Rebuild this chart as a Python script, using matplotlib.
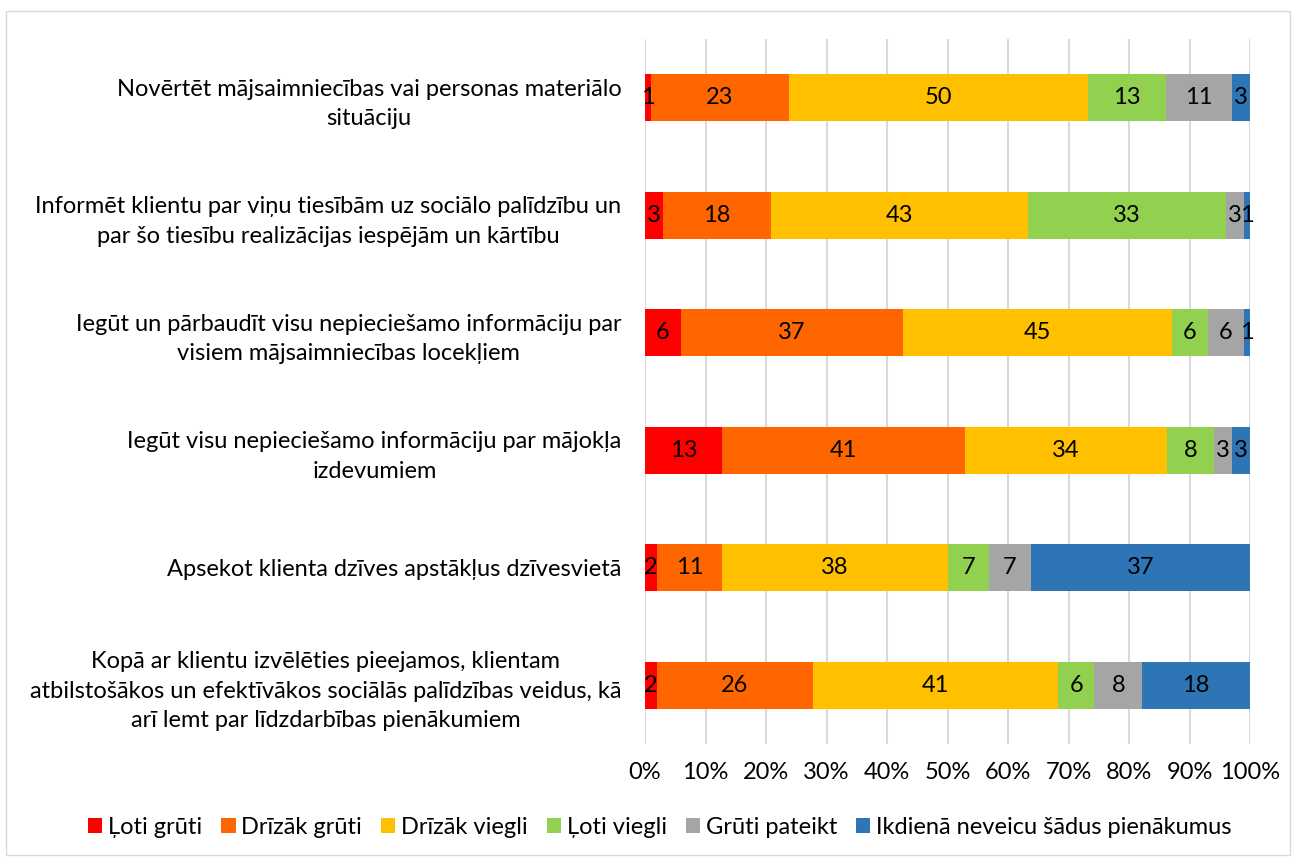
import matplotlib.pyplot as plt
from matplotlib.patches import Rectangle
import numpy as np

plt.rcParams['font.family'] = ['Lato', 'DejaVu Sans']

categories = [
    "Novērtēt mājsaimniecības vai personas materiālo\nsituāciju",
    "Informēt klientu par viņu tiesībām uz sociālo palīdzību un\npar šo tiesību realizācijas iespējām un kārtību",
    "Iegūt un pārbaudīt visu nepieciešamo informāciju par\nvisiem mājsaimniecības locekļiem",
    "Iegūt visu nepieciešamo informāciju par mājokļa\nizdevumiem",
    "Apsekot klienta dzīves apstākļus dzīvesvietā",
    "Kopā ar klientu izvēlēties pieejamos, klientam\natbilstošākos un efektīvākos sociālās palīdzības veidus, kā\narī lemt par līdzdarbības pienākumiem",
]
series_names = ["Ļoti grūti", "Drīzāk grūti", "Drīzāk viegli", "Ļoti viegli",
                "Grūti pateikt", "Ikdienā neveicu šādus pienākumus"]
loti_gruti = [1, 3, 6, 13, 2, 2]
drizak_gruti = [23, 18, 37, 41, 11, 26]
drizak_viegli = [50, 43, 45, 34, 38, 41]
loti_viegli = [13, 33, 6, 8, 7, 6]
gruti_pateikt = [11, 3, 6, 3, 7, 8]
neveicu = [3, 1, 1, 3, 37, 18]
colors = ["#FF0000", "#FF6600", "#FFC000", "#92D050", "#A5A5A5", "#2E75B6"]

data = np.array([loti_gruti, drizak_gruti, drizak_viegli, loti_viegli, gruti_pateikt, neveicu], dtype=float)
shares = data / data.sum(axis=0) * 100

fs = 17
fig = plt.figure(figsize=(12.94, 8.59), dpi=100)
ax = fig.add_axes([0.4985, 0.134, 0.4675, 0.8205])
fig.patches.append(Rectangle((0.005, 0.005), 0.992, 0.982, transform=fig.transFigure,
                             fill=False, edgecolor="#d9d9d9", linewidth=1))

y = np.arange(len(categories))
left = np.zeros(len(categories))
for i in range(len(series_names)):
    bars = ax.barh(y, shares[i], left=left, height=0.4, color=colors[i], label=series_names[i])
    for j, b in enumerate(bars):
        ax.text(left[j] + shares[i][j] / 2, y[j], f"{int(data[i][j])}",
                ha="center", va="center", fontsize=fs, color="black")
    left += shares[i]

ax.set_xlim(0, 100)
ax.set_ylim(len(categories) - 0.5, -0.5)
ax.set_xticks(np.arange(0, 101, 10))
ax.set_xticklabels([f"{v}%" for v in range(0, 101, 10)], fontsize=fs)
ax.set_yticks(y)
ax.set_yticklabels(categories, fontsize=fs, linespacing=1.5)
for t in ax.get_yticklabels():
    t.set_multialignment("center")
ax.tick_params(axis="both", length=0)
ax.tick_params(axis="y", pad=17)
ax.tick_params(axis="x", pad=13)
for s in ax.spines.values():
    s.set_visible(False)
ax.grid(axis="x", color="#d9d9d9", linewidth=1.5)
ax.set_axisbelow(True)

fig.legend(loc="center", bbox_to_anchor=(0.51, 0.037), ncol=6, frameon=False, fontsize=fs,
           handlelength=0.6, handleheight=0.6, handletextpad=0.25, columnspacing=0.8)

fig.savefig("out.png", dpi=100)
